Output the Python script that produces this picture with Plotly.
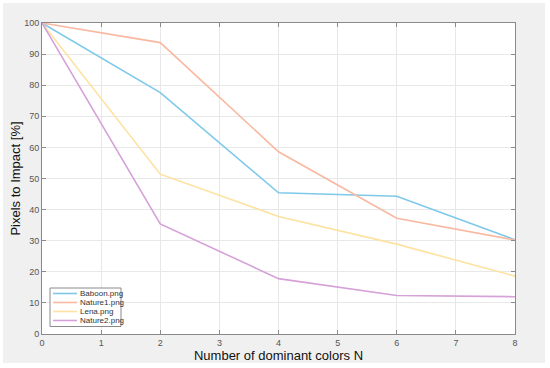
import plotly.graph_objects as go

n_colors = [0, 2, 4, 6, 8]
baboon = [100, 77.6, 45.4, 44.3, 30.3]
nature1 = [100, 93.7, 58.6, 37.2, 30.2]
lena = [100, 51.4, 37.8, 28.9, 18.6]
nature2 = [100, 35.4, 17.8, 12.4, 12.0]

series = [
    ("Baboon.png", baboon, "#7ec9ea"),
    ("Nature1.png", nature1, "#f9b8a0"),
    ("Lena.png", lena, "#fde2a0"),
    ("Nature2.png", nature2, "#d6a0d8"),
]

fig = go.Figure()
for name, vals, col in series:
    fig.add_trace(go.Scatter(x=n_colors, y=vals, mode="lines", name=name,
                             line=dict(color=col, width=1.6), showlegend=False))

W, H = 550, 368
l, r, t, b = 42, 35, 23, 34
pw, ph = W - l - r, H - t - b


def px(xp):
    return (xp - l) / pw


def py(yp):
    return (H - b - yp) / ph


# grey figure panel, then white axes area on top of it
fig.add_shape(type="rect", xref="paper", yref="paper", layer="below",
              x0=px(3), x1=px(545), y0=py(363), y1=py(3),
              fillcolor="#f0f0f0", line=dict(width=0))
fig.add_shape(type="rect", xref="paper", yref="paper", layer="below",
              x0=0, x1=1, y0=0, y1=1,
              fillcolor="white", line=dict(width=0))

# legend box (drawn manually to match the compact MATLAB legend)
fig.add_shape(type="rect", xref="paper", yref="paper", layer="above",
              x0=px(50), x1=px(121), y0=py(326.5), y1=py(288),
              fillcolor="white", line=dict(color="#8a8a8a", width=1))
row_y = [293.5, 302.5, 311.5, 320.5]
for (name, vals, col), yy in zip(series, row_y):
    fig.add_shape(type="line", xref="paper", yref="paper", layer="above",
                  x0=px(53), x1=px(77), y0=py(yy), y1=py(yy),
                  line=dict(color=col, width=1.6))
    fig.add_annotation(text=name, xref="paper", yref="paper", x=px(78), y=py(yy),
                       xanchor="left", yanchor="middle", showarrow=False,
                       font=dict(family="Liberation Sans, Arial", size=8, color="#333333"))

axis_common = dict(showline=True, linecolor="#8a8a8a", linewidth=1, mirror="ticks",
                   ticks="inside", ticklen=4, tickcolor="#8a8a8a", automargin=False,
                   showgrid=True, gridcolor="#e8e8e8", gridwidth=1, zeroline=False,
                   tickfont=dict(family="Liberation Sans, Arial", size=9, color="#555555"))

fig.update_layout(
    width=W, height=H,
    margin=dict(l=l, r=r, t=t, b=b),
    paper_bgcolor="white", plot_bgcolor="white",
    font=dict(family="Liberation Sans, Arial", color="#222222"),
    xaxis=dict(range=[0, 8], dtick=1, tick0=0,
               title=dict(text="Number of dominant colors N", standoff=2,
                          font=dict(size=13, color="#111111")),
               **axis_common),
    yaxis=dict(range=[0, 100], dtick=10, tick0=0,
               title=dict(text="Pixels to Impact [%]", standoff=0,
                          font=dict(size=13, color="#111111")),
               **axis_common),
    showlegend=False,
)

fig.write_html("out.html", config={"displayModeBar": False},
               post_script="document.body.style.margin='0';")
